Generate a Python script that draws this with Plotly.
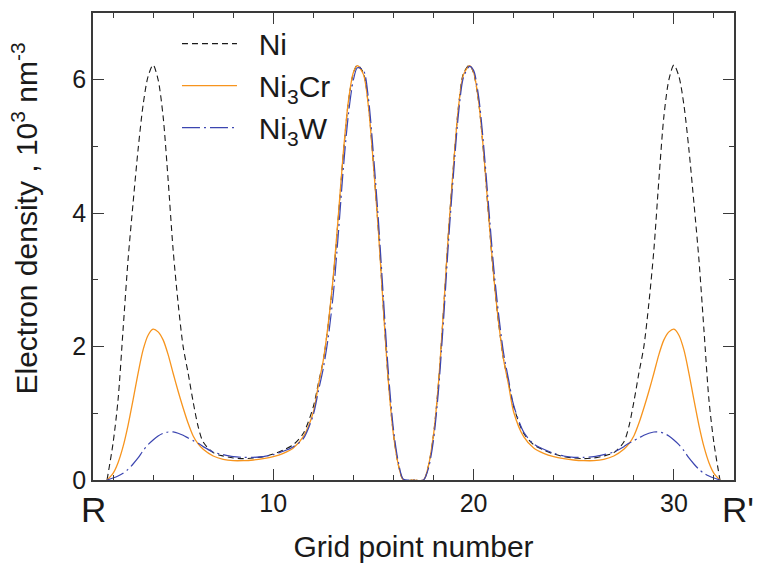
import plotly.graph_objects as go

# Grid positions (shared by all three series)
grid_x = [1.7, 2.0, 2.25, 2.5, 2.75, 3.0, 3.25, 3.5, 3.75, 4.0, 4.25, 4.5, 4.75, 5.0, 5.25,
          5.5, 5.75, 6.0, 6.25, 6.5, 7.0, 7.5, 8.0, 8.5, 9.0, 9.5, 10.0, 10.5, 11.0, 11.5,
          12.0, 12.25, 12.5, 12.75, 13.0, 13.25, 13.5, 13.75, 14.0, 14.2, 14.5, 14.75, 15.0,
          15.25, 15.5, 15.75, 16.0, 16.25, 16.5, 17.0,
          17.5, 17.75, 18.0, 18.25, 18.5, 18.75, 19.0, 19.25, 19.5, 19.8, 20.0, 20.25, 20.5,
          20.75, 21.0, 21.25, 21.5, 21.75, 22.0, 22.5, 23.0, 23.5, 24.0, 24.5, 25.0, 25.5,
          26.0, 26.5, 27.0, 27.5, 27.75, 28.0, 28.25, 28.5, 28.75, 29.0, 29.25, 29.5, 29.75,
          30.0, 30.25, 30.5, 30.75, 31.0, 31.25, 31.5, 31.75, 32.0, 32.3]

ni = [0, 0.55, 1.2, 2.25, 3.3, 4.15, 4.95, 5.62, 6.05, 6.22, 6.0, 5.45, 4.5, 3.45, 2.65,
      2.0, 1.6, 1.17, 0.8, 0.57, 0.41, 0.36, 0.33, 0.32, 0.33, 0.35, 0.39, 0.45, 0.53, 0.70,
      1.10, 1.45, 1.80, 2.35, 3.05, 3.95, 4.90, 5.67, 6.10, 6.22, 6.10, 5.61, 4.73,
      3.73, 2.55, 1.46, 0.68, 0.22, 0.0, 0.0,
      0.0, 0.22, 0.68, 1.46, 2.55, 3.73, 4.73, 5.61, 6.10, 6.22, 6.10, 5.67, 4.90,
      3.95, 3.05, 2.35, 1.80, 1.45, 1.10, 0.70, 0.53, 0.45, 0.39, 0.35, 0.33, 0.32,
      0.33, 0.36, 0.41, 0.57, 0.8, 1.17, 1.6, 2.0, 2.65, 3.45, 4.5, 5.45, 6.0,
      6.22, 6.05, 5.62, 4.95, 4.15, 3.3, 2.25, 1.2, 0.55, 0]

ni3cr = [0, 0.1, 0.26, 0.5, 0.82, 1.2, 1.6, 1.95, 2.17, 2.26, 2.22, 2.1, 1.88, 1.6, 1.33,
         1.08, 0.85, 0.66, 0.54, 0.46, 0.36, 0.31, 0.29, 0.29, 0.30, 0.32, 0.35, 0.40, 0.48, 0.65,
         1.02, 1.42, 1.80, 2.36, 3.07, 3.97, 4.92, 5.68, 6.11, 6.21, 6.08, 5.60, 4.72,
         3.72, 2.55, 1.46, 0.68, 0.22, 0.0, 0.0,
         0.0, 0.22, 0.68, 1.46, 2.55, 3.72, 4.72, 5.60, 6.08, 6.21, 6.11, 5.68, 4.92,
         3.97, 3.07, 2.36, 1.80, 1.42, 1.02, 0.65, 0.48, 0.40, 0.35, 0.32, 0.30, 0.29,
         0.29, 0.31, 0.36, 0.46, 0.54, 0.66, 0.85, 1.08, 1.33, 1.6, 1.88, 2.1, 2.22,
         2.26, 2.17, 1.95, 1.6, 1.2, 0.82, 0.5, 0.26, 0.1, 0]

ni3w = [0, 0.03, 0.06, 0.1, 0.16, 0.24, 0.33, 0.44, 0.53, 0.60, 0.66, 0.70, 0.72, 0.72, 0.70,
        0.67, 0.63, 0.59, 0.55, 0.50, 0.42, 0.38, 0.35, 0.34, 0.34, 0.35, 0.38, 0.43, 0.50, 0.62,
        0.98, 1.33, 1.68, 2.15, 2.80, 3.70, 4.68, 5.48, 6.00, 6.18, 6.14, 5.72, 4.88,
        3.88, 2.72, 1.60, 0.76, 0.26, 0.01, 0.0,
        0.0, 0.18, 0.6, 1.35, 2.4, 3.58, 4.6, 5.5, 6.04, 6.2, 6.14, 5.75, 5.02,
        4.1, 3.2, 2.48, 1.9, 1.5, 1.12, 0.72, 0.54, 0.46, 0.40, 0.36, 0.34, 0.34,
        0.35, 0.38, 0.42, 0.50, 0.55, 0.59, 0.63, 0.67, 0.70, 0.72, 0.72, 0.70, 0.66,
        0.60, 0.53, 0.44, 0.33, 0.24, 0.16, 0.1, 0.06, 0.03, 0]

series_names = ["\u00a0\u00a0Ni", "\u00a0\u00a0Ni<sub>3</sub>Cr", "\u00a0\u00a0Ni<sub>3</sub>W"]
x_label = "Grid point number"
y_label = "Electron density , 10<sup>3</sup> nm<sup>-3</sup>"
end_labels = ["R", "R'"]

FONT = "Liberation Sans, Arial, Helvetica, sans-serif"
AX = "#3a3a3a"
TXT = "#1a1a1a"

fig = go.Figure()
fig.add_trace(go.Scatter(x=grid_x, y=ni, mode="lines", name=series_names[0],
                         line=dict(color="#1a1a1a", width=1.1, dash="6px,4px",
                                   shape="spline", smoothing=0.8)))
fig.add_trace(go.Scatter(x=grid_x, y=ni3cr, mode="lines", name=series_names[1],
                         line=dict(color="#F7941D", width=1.3,
                                   shape="spline", smoothing=0.8)))
fig.add_trace(go.Scatter(x=grid_x, y=ni3w, mode="lines", name=series_names[2],
                         line=dict(color="#3B45B0", width=1.2, dash="18px,4px,2px,4px",
                                   shape="spline", smoothing=0.8)))

fig.update_layout(
    width=760, height=565,
    margin=dict(l=93, r=26, t=13, b=85, autoexpand=False),
    paper_bgcolor="white", plot_bgcolor="white",
    font=dict(family=FONT, color=TXT),
    showlegend=True,
    legend=dict(x=0.131, y=0.99, xanchor="left", yanchor="top",
                font=dict(family=FONT, size=30, color=TXT),
                bgcolor="rgba(0,0,0,0)", itemwidth=55, tracegroupgap=0),
)

fig.update_xaxes(
    range=[1, 33], tick0=0, dtick=10, ticks="inside", ticklen=11, tickwidth=1.3,
    tickcolor=AX, showline=True, linecolor=AX, linewidth=1.5, mirror="ticks",
    showgrid=False, zeroline=False,
    tickfont=dict(family=FONT, size=25, color=TXT),
    minor=dict(tick0=0, dtick=2, ticks="inside", ticklen=5, tickwidth=1.2,
               tickcolor=AX, showgrid=False),
    title=dict(text=x_label, font=dict(family=FONT, size=30, color=TXT), standoff=20),
)
fig.update_yaxes(
    range=[0, 7], tick0=0, dtick=2, ticks="inside", ticklen=11, tickwidth=1.3,
    tickcolor=AX, showline=True, linecolor=AX, linewidth=1.5, mirror="ticks",
    showgrid=False, zeroline=False,
    tickfont=dict(family=FONT, size=25, color=TXT),
    minor=dict(tick0=0, dtick=1, ticks="inside", ticklen=5, tickwidth=1.2,
               tickcolor=AX, showgrid=False),
)

fig.add_annotation(text=y_label, textangle=-90, xref="paper", yref="paper",
                   x=-0.106, y=0.56, xanchor="center", yanchor="middle",
                   showarrow=False, font=dict(family=FONT, size=30, color=TXT))
fig.add_annotation(text=end_labels[0], xref="paper", yref="paper", x=0.0, y=-0.064,
                   xanchor="center", yanchor="middle", showarrow=False,
                   font=dict(family=FONT, size=35, color=TXT))
fig.add_annotation(text=end_labels[1], xref="paper", yref="paper", x=1.007, y=-0.064,
                   xanchor="center", yanchor="middle", showarrow=False,
                   font=dict(family=FONT, size=35, color=TXT))

fig.write_html("out.html")
